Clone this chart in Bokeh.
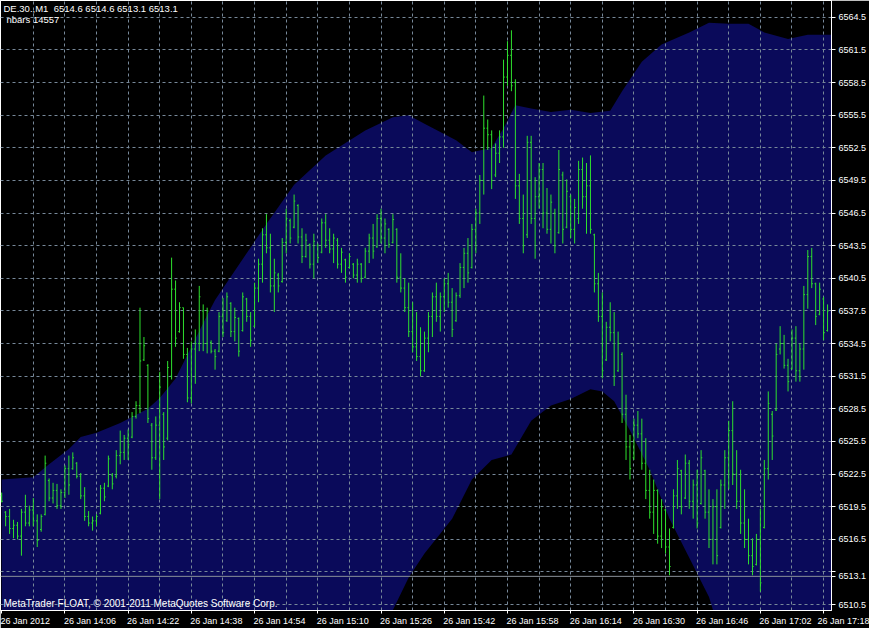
from bokeh.plotting import figure
from bokeh.models import FixedTicker, Label, Span, ColumnDataSource, AllLabels
from bokeh.embed import file_html
from bokeh.resources import INLINE

# ---------------- data ----------------
highs = [6520.8,6519.1,6519.3,6518.3,6518.1,6519.3,6520.6,6519.6,6520.3,6518.8,
         6518.8,6524.2,6522.1,6521.7,6521.6,6521.1,6523.3,6524.2,6524.5,6523.6,
         6522.6,6521.3,6519.1,6518.6,6518.8,6521.5,6521.7,6524.2,6522.6,6524.7,
         6526.5,6526.1,6526.6,6528.2,6529.2,6537.8,6535.1,6532.6,6527.2,6527.8,
         6531.9,6528.2,6532.9,6542.4,6540.3,6538.3,6537.8,6534.1,6534.7,6535.8,
         6539.8,6538.1,6537.8,6534.8,6534.0,6537.4,6538.7,6539.2,6538.3,6537.8,
         6536.9,6539.2,6538.7,6537.4,6540.1,6542.3,6545.1,6546.4,6544.6,6542.3,
         6541.0,6544.2,6546.9,6546.0,6548.2,6547.3,6545.1,6544.6,6543.7,6544.6,
         6543.7,6546.0,6546.4,6545.1,6544.6,6544.2,6543.3,6542.3,6542.8,6541.9,
         6542.3,6541.9,6543.3,6544.6,6545.5,6546.4,6546.9,6546.0,6545.1,6546.4,
         6545.1,6542.8,6540.5,6540.1,6538.3,6537.4,6536.0,6535.6,6537.4,6539.2,
         6540.1,6539.2,6540.5,6541.0,6539.6,6539.2,6541.9,6543.3,6544.2,6545.5,
         6546.9,6550.0,6557.3,6555.1,6554.1,6552.9,6554.1,6560.6,6562.3,6563.3,
         6558.8,6550.1,6548.2,6553.6,6553.6,6549.8,6551.1,6551.1,6548.8,6548.2,
         6546.9,6552.3,6550.3,6549.6,6548.2,6547.8,6551.3,6551.6,6551.1,6551.8,
         6544.6,6541.0,6539.2,6536.5,6538.3,6537.4,6535.6,6533.7,6529.8,6526.1,
         6527.6,6528.3,6527.6,6525.8,6522.9,6522.0,6521.1,6520.2,6519.3,6517.5,
         6521.1,6523.8,6522.9,6524.3,6523.8,6522.0,6522.9,6524.7,6522.9,6521.1,
         6520.2,6521.1,6522.0,6524.7,6527.4,6529.2,6524.7,6522.9,6521.1,6518.4,
         6516.6,6517.0,6519.3,6523.8,6530.1,6528.3,6534.5,6536.1,6535.3,6533.1,
         6535.8,6536.1,6534.5,6539.8,6543.1,6543.3,6540.1,6540.1,6538.8,6538.1]
lows = [6519.9,6517.7,6517.0,6516.6,6516.5,6515.0,6517.7,6517.7,6517.7,6515.8,
        6517.2,6518.7,6520.0,6519.8,6519.3,6519.3,6520.3,6520.6,6522.9,6522.1,
        6520.2,6518.2,6517.7,6517.3,6517.7,6518.8,6520.0,6521.3,6521.1,6522.1,
        6523.4,6523.8,6523.8,6525.8,6527.6,6528.1,6532.9,6527.2,6522.9,6523.8,
        6520.2,6523.8,6525.6,6531.2,6534.2,6535.5,6533.1,6529.1,6529.0,6530.8,
        6533.8,6533.8,6533.6,6533.6,6532.1,6533.7,6535.1,6536.5,6535.1,6534.7,
        6533.3,6535.6,6536.5,6534.2,6536.0,6538.3,6540.1,6542.8,6539.2,6537.4,
        6539.2,6540.1,6542.8,6543.7,6545.1,6543.7,6541.9,6542.4,6541.4,6540.5,
        6541.9,6542.8,6543.3,6542.8,6541.9,6541.4,6541.0,6540.1,6541.4,6540.5,
        6540.1,6540.1,6540.5,6541.9,6542.3,6543.3,6543.7,6542.8,6543.3,6543.7,
        6540.1,6539.2,6537.4,6535.1,6533.7,6532.9,6531.5,6531.9,6533.7,6535.1,
        6536.5,6535.6,6537.4,6537.8,6535.1,6536.5,6538.7,6539.6,6540.1,6541.4,
        6542.8,6545.5,6548.2,6552.3,6548.7,6549.8,6551.1,6552.5,6558.2,6557.7,
        6547.8,6545.5,6542.8,6544.2,6545.5,6542.3,6546.9,6545.1,6544.6,6543.7,
        6542.8,6544.6,6543.7,6545.1,6544.2,6543.7,6545.5,6546.9,6544.6,6544.6,
        6539.2,6536.5,6531.3,6532.9,6534.7,6530.6,6531.9,6527.2,6523.8,6522.0,
        6523.8,6525.8,6522.9,6520.2,6518.4,6517.0,6516.1,6515.7,6515.2,6513.2,
        6517.5,6519.3,6518.8,6520.2,6519.3,6518.4,6517.5,6519.7,6518.4,6515.7,
        6514.2,6514.2,6517.5,6519.3,6521.1,6521.5,6519.3,6517.0,6515.7,6514.2,
        6513.2,6514.1,6511.7,6517.5,6522.0,6523.8,6528.3,6533.5,6532.2,6530.1,
        6532.1,6531.0,6531.0,6532.1,6537.7,6539.6,6536.2,6537.1,6534.8,6535.6]
opens = [6520.5,6519.0,6518.6,6517.5,6517.8,6516.8,6519.0,6518.0,6519.2,6518.2,
         6517.4,6518.8,6521.9,6520.3,6521.0,6519.6,6520.8,6523.0,6523.0,6523.5,
         6522.3,6520.5,6518.6,6518.0,6518.2,6518.9,6521.2,6521.4,6522.4,6522.3,
         6524.2,6524.5,6525.8,6525.9,6527.8,6528.8,6533.0,6532.5,6527.0,6524.0,
         6527.0,6528.0,6525.8,6531.5,6539.5,6535.6,6537.8,6533.5,6529.5,6534.0,
         6534.5,6537.5,6534.5,6534.6,6533.8,6533.8,6537.0,6536.6,6538.2,6535.6,
         6536.8,6535.7,6538.6,6537.0,6536.1,6539.6,6541.8,6544.5,6543.3,6539.8,
         6540.8,6540.2,6543.8,6545.8,6545.2,6547.2,6544.3,6542.5,6543.6,6541.8,
         6543.5,6542.9,6545.6,6544.0,6543.2,6544.0,6541.8,6542.2,6541.5,6541.8,
         6540.8,6541.8,6540.6,6543.0,6544.2,6543.4,6546.0,6544.2,6545.0,6543.8,
         6545.0,6540.6,6539.6,6537.8,6535.6,6534.2,6533.3,6532.0,6535.0,6537.0,
         6538.8,6537.0,6538.8,6540.0,6538.3,6536.6,6538.9,6541.5,6542.8,6541.5,
         6545.0,6546.5,6549.5,6554.3,6553.7,6550.0,6552.0,6553.5,6559.0,6561.0,
         6558.5,6549.0,6546.0,6544.5,6553.0,6546.0,6548.0,6550.5,6546.5,6545.0,
         6546.5,6544.7,6550.0,6545.2,6548.0,6545.0,6546.0,6550.5,6548.0,6549.0,
         6544.5,6540.0,6537.0,6533.0,6536.0,6535.5,6532.0,6533.5,6528.0,6525.0,
         6524.0,6527.0,6526.2,6523.5,6521.0,6519.0,6521.0,6516.8,6519.2,6515.8,
         6517.6,6520.5,6522.8,6520.3,6523.5,6520.0,6521.5,6519.8,6522.8,6519.0,
         6516.5,6519.5,6517.6,6521.5,6524.0,6526.5,6522.5,6520.0,6518.0,6516.5,
         6515.0,6514.2,6516.5,6517.6,6523.0,6528.0,6528.4,6534.0,6534.5,6532.5,
         6532.2,6535.0,6532.0,6534.0,6539.0,6542.5,6540.0,6537.2,6538.6,6535.7]
closes = [6520.0,6518.6,6517.5,6517.8,6516.8,6519.0,6518.0,6519.2,6518.2,6516.4,
          6518.6,6523.5,6520.3,6521.0,6519.6,6520.8,6523.0,6521.5,6524.0,6522.3,
          6520.5,6518.6,6518.0,6518.2,6518.6,6521.2,6520.4,6523.9,6521.6,6524.2,
          6524.5,6525.8,6525.2,6527.8,6528.8,6532.9,6534.3,6527.6,6524.0,6527.0,
          6530.5,6525.0,6532.3,6539.5,6535.0,6537.8,6533.5,6529.5,6534.0,6534.5,
          6538.8,6534.5,6537.5,6533.8,6533.3,6537.0,6535.5,6538.8,6535.6,6536.9,
          6533.8,6538.8,6537.0,6534.8,6539.6,6541.8,6544.5,6543.3,6539.8,6541.0,
          6539.8,6543.8,6546.0,6544.2,6547.6,6544.3,6542.5,6544.0,6541.8,6543.9,
          6542.4,6545.6,6544.0,6543.2,6544.2,6541.8,6542.9,6540.6,6542.5,6540.8,
          6541.8,6540.5,6543.0,6544.2,6543.0,6546.0,6544.2,6545.5,6543.6,6545.9,
          6540.6,6539.6,6537.8,6535.6,6534.2,6533.3,6532.0,6535.0,6537.0,6538.8,
          6537.0,6538.8,6540.0,6538.3,6535.8,6538.9,6541.5,6542.8,6541.0,6545.0,
          6546.5,6549.5,6554.3,6553.7,6549.5,6552.0,6553.5,6559.0,6561.0,6558.2,
          6549.0,6546.0,6543.5,6553.0,6546.0,6548.0,6550.5,6546.5,6545.0,6547.5,
          6543.5,6550.5,6545.0,6548.5,6545.0,6547.0,6550.5,6548.0,6549.0,6545.0,
          6540.0,6537.0,6532.0,6536.0,6535.5,6531.5,6534.5,6528.0,6525.0,6523.0,
          6527.0,6526.2,6523.5,6521.0,6519.0,6521.0,6516.8,6519.5,6515.8,6514.0,
          6520.5,6523.0,6519.5,6523.5,6520.0,6521.5,6518.0,6524.0,6519.0,6516.5,
          6519.5,6515.0,6521.5,6524.0,6526.5,6522.5,6520.0,6518.0,6516.5,6515.0,
          6514.0,6516.5,6512.5,6523.0,6529.0,6526.0,6533.5,6534.5,6532.5,6531.0,
          6535.0,6532.0,6534.0,6539.0,6542.5,6540.0,6537.0,6539.5,6535.5,6537.5]
bar_index = list(range(len(highs)))

# envelope (upper / lower edge of the blue band), sampled at bar indices
upper_idx = [0, 8, 12, 17, 20, 24, 30, 37, 40, 44, 52, 54, 67, 74, 82, 92, 99, 103,
             107, 115, 119, 124, 127, 130, 134, 139, 144, 149, 154, 157, 162, 167,
             174, 179, 184, 189, 193, 199, 204, 210]
upper_val = [6522.0, 6522.2, 6523.4, 6524.8, 6525.9, 6526.3, 6527.2, 6528.5, 6529.5,
             6531.3, 6537.1, 6538.5, 6545.5, 6549.1, 6551.8, 6554.1, 6555.3, 6555.5,
             6554.7, 6553.2, 6552.1, 6552.5, 6554.3, 6556.4, 6556.1, 6555.8, 6556.0,
             6555.7, 6555.9, 6557.7, 6560.4, 6562.0, 6563.1, 6564.0, 6563.9, 6563.9,
             6563.1, 6562.5, 6562.9, 6562.9]
lower_idx = [0, 40, 80, 99, 103, 107, 114, 119, 124, 129, 134, 139, 144, 149, 152,
             155, 159, 164, 169, 174, 179, 180, 190, 210]
lower_val = [6497.0, 6499.0, 6503.0, 6510.0, 6513.0, 6515.2, 6518.4, 6522.0, 6523.8,
             6524.3, 6527.4, 6528.8, 6529.4, 6530.3, 6530.1, 6529.2, 6526.5, 6522.9,
             6518.4, 6514.8, 6511.2, 6510.0, 6505.0, 6500.0]

price_ticks = [6510.5, 6513.5, 6516.5, 6519.5, 6522.5, 6525.5, 6528.5, 6531.5, 6534.5,
               6537.5, 6540.5, 6543.5, 6546.5, 6549.5, 6552.5, 6555.5, 6558.5, 6561.5,
               6564.5]
time_ticks = [0, 16, 32, 48, 64, 80, 96, 112, 128, 144, 160, 176, 192, 208]
time_labels = ["26 Jan 2012", "26 Jan 14:06", "26 Jan 14:22", "26 Jan 14:38",
               "26 Jan 14:54", "26 Jan 15:10", "26 Jan 15:26", "26 Jan 15:42",
               "26 Jan 15:58", "26 Jan 16:14", "26 Jan 16:30", "26 Jan 16:46",
               "26 Jan 17:02", "26 Jan 17:18"]
grid_x = [8, 16, 24, 32, 40, 48, 56, 64, 72, 80, 88, 96, 104, 112, 120, 128, 136,
          144, 152, 160, 168, 176, 184, 192, 200, 208]
bid_price = 6513.1
header = "DE.30.,M1\u00a0\u00a06514.6 6514.6 6513.1 6513.1"
nbars = "nbars 14557"
copyright_txt = "MetaTrader FLOAT, \u00a9 2001-2011 MetaQuotes Software Corp."

# ---------------- figure ----------------
FONT = "Liberation Sans"
BAR = "#2ee02e"
BAND = "#0a0a5a"
GRID = "#778899"
NB = "\u00a0"

X0, X1 = -0.3, 210
Y0, Y1 = 6509.96, 6566.04

p = figure(width=869, height=628, output_backend="svg", toolbar_location=None,
           x_range=(X0, X1), y_range=(Y0, Y1),
           y_axis_location="right", background_fill_color="black",
           border_fill_color="black", min_border_left=0, min_border_top=0,
           min_border_right=0, min_border_bottom=16)
p.outline_line_color = "white"
p.outline_line_width = 1

# band
xs = upper_idx + lower_idx[::-1]
ys = upper_val + lower_val[::-1]
p.patch(xs, ys, fill_color=BAND, line_color=None, level="image")

# grids
p.xgrid.ticker = FixedTicker(ticks=grid_x)
p.ygrid.ticker = FixedTicker(ticks=price_ticks)
for g in (p.xgrid, p.ygrid):
    g.grid_line_color = GRID
    g.grid_line_dash = "3 3"
    g.grid_line_width = 1

# OHLC bars
src = ColumnDataSource(dict(x=bar_index, o=opens, h=highs, l=lows, c=closes,
                            xl=[i - 0.3 for i in bar_index],
                            xr=[i + 0.3 for i in bar_index]))
p.segment(x0="x", y0="l", x1="x", y1="h", source=src, line_color=BAR, line_width=1)
p.segment(x0="xl", y0="o", x1="x", y1="o", source=src, line_color=BAR, line_width=1)
p.segment(x0="x", y0="c", x1="xr", y1="c", source=src, line_color=BAR, line_width=1)

# bid line
p.add_layout(Span(location=bid_price, dimension="width", line_color="#8a9099",
                  line_width=1))

# axes
xa = p.xaxis[0]
xa.ticker = FixedTicker(ticks=time_ticks)
# MetaTrader puts each time label to the right of its tick: left padding with
# no-break spaces shifts the centred text so that it starts at the tick
overrides = {}
for t, s in zip(time_ticks, time_labels):
    overrides[t] = s if t == time_ticks[0] else NB * 20 + s
xa.major_label_overrides = overrides
xa.major_label_policy = AllLabels()
xa.major_label_standoff = 2

ya = p.yaxis[0]
ya.ticker = FixedTicker(ticks=price_ticks + [bid_price])
y_over = {t: f"{t:.1f}" for t in price_ticks}
y_over[6513.5] = ""          # hidden behind the current-price marker
y_over[bid_price] = f"{bid_price:.1f}"
ya.major_label_overrides = y_over
ya.major_label_standoff = 3
for ax in (xa, ya):
    ax.axis_line_color = "white"
    ax.major_tick_line_color = "white"
    ax.minor_tick_line_color = None
    ax.major_tick_in = 0
    ax.major_tick_out = 4
    ax.major_label_text_color = "white"
    ax.major_label_text_font = FONT
    ax.major_label_text_font_size = "9px"
xa.major_tick_out = 3

# texts
p.add_layout(Label(x=X0, y=Y1, x_offset=3, y_offset=-2, text=header,
                   text_color="white", text_font=FONT, text_font_size="9.5px",
                   text_baseline="top"))
p.add_layout(Label(x=X0, y=Y1, x_offset=6, y_offset=-13, text=nbars,
                   text_color="white", text_font=FONT, text_font_size="9.5px",
                   text_baseline="top"))
p.add_layout(Label(x=X0, y=Y0, x_offset=3, y_offset=2, text=copyright_txt,
                   text_color="white", text_font=FONT, text_font_size="10px",
                   text_baseline="bottom"))

open("out.html", "w").write(file_html(p, INLINE))
